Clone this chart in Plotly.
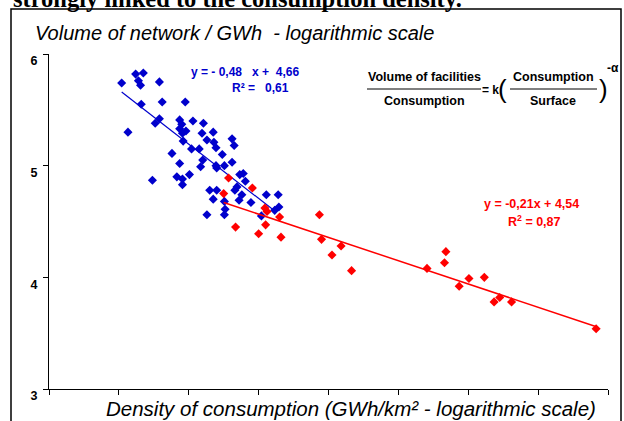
import plotly.graph_objects as go

# ---- data (x: log density of consumption, y: log volume of network / GWh) ----
blue_x = [-1.96, -1.76, -1.65, -1.72, -1.69, -1.42, -1.68, -1.38, -1.05, -1.87,
          -1.48, -1.42, -1.13, -1.10, -0.94, -0.79, -1.13, -1.04, -1.09, -0.81,
          -0.65, -0.74, -1.08, -0.64, -0.61, -0.38, -0.35, -0.96, -0.85, -1.24,
          -0.52, -0.80, -1.13, -0.83, -0.61, -0.60, -0.49, -0.38, -0.99, -1.17,
          -1.09, -1.09, -1.52, -0.27, -0.22, -0.19, -0.70, -0.60, -0.31, -0.34,
          -0.65, -0.49, -0.28, -0.24, 0.11, 0.28, -0.11, -0.48, -0.49, -0.74,
          0.04, 0.23, 0.29]
blue_y = [5.74, 5.82, 5.83, 5.76, 5.72, 5.75, 5.55, 5.57, 5.57, 5.30,
          5.38, 5.42, 5.41, 5.37, 5.40, 5.38, 5.33, 5.31, 5.29, 5.29,
          5.30, 5.23, 5.22, 5.21, 5.16, 5.24, 5.18, 5.15, 5.15, 5.11,
          5.10, 5.05, 5.02, 4.99, 5.00, 4.98, 5.00, 5.03, 4.92, 4.90,
          4.88, 4.83, 4.87, 4.92, 4.93, 4.86, 4.78, 4.78, 4.81, 4.78,
          4.70, 4.68, 4.69, 4.74, 4.74, 4.74, 4.67, 4.61, 4.56, 4.56,
          4.55, 4.60, 4.63]

red_x = [-0.43, -0.09, -0.50, 0.09, 0.12, 0.30, 0.87, 0.10, -0.33, 0.00,
         0.32, 0.90, 1.18, 1.05, 1.33, 2.41, 2.68, 2.66, 3.01, 2.87,
         3.23, 3.45, 3.37, 3.62, 4.83]
red_y = [4.89, 4.80, 4.75, 4.62, 4.59, 4.54, 4.56, 4.47, 4.45, 4.39,
         4.36, 4.34, 4.28, 4.20, 4.06, 4.08, 4.23, 4.13, 3.99, 3.92,
         4.00, 3.82, 3.78, 3.78, 3.54]

# regression lines (end points)
blue_fit_x = [-1.96, 0.25]
blue_fit_y = [5.66, 4.585]
red_fit_x = [-0.50, 4.835]
red_fit_y = [4.67, 3.558]

y_ticks = [3, 4, 5, 6]
x_ticks = [-3, -2, -1, 0, 1, 2, 3, 4, 5]

BLUE = "#0000CC"
RED = "#FF0000"
FONT = "Liberation Sans, Arial, sans-serif"

W, H = 624, 421
ML, MR, MT, MB = 49, 16, 54, 32
PW, PH = W - ML - MR, H - MT - MB


def P(px, py):
    """pixel position -> paper coordinates"""
    return (px - ML) / PW, (H - MB - py) / PH


fig = go.Figure()
fig.add_trace(go.Scatter(x=blue_x, y=blue_y, mode="markers",
                         marker=dict(symbol="diamond", size=7, color=BLUE), showlegend=False))
fig.add_trace(go.Scatter(x=blue_fit_x, y=blue_fit_y, mode="lines",
                         line=dict(color=BLUE, width=1.2), showlegend=False))
fig.add_trace(go.Scatter(x=red_x, y=red_y, mode="markers",
                         marker=dict(symbol="diamond", size=7, color=RED), showlegend=False))
fig.add_trace(go.Scatter(x=red_fit_x, y=red_fit_y, mode="lines",
                         line=dict(color=RED, width=1.5), showlegend=False))

ann = []


def A(text, px, py, size=11, color="black", xanchor="center", yanchor="middle", family=FONT):
    x, y = P(px, py)
    ann.append(dict(text=text, x=x, y=y, xref="paper", yref="paper", showarrow=False,
                    xanchor=xanchor, yanchor=yanchor,
                    font=dict(size=size, color=color, family=family)))


# cut-off heading at the very top
A("<b>strongly linked to the consumption density.</b>", 11, -1, size=24.5,
  xanchor="left", family="Liberation Serif, Times New Roman, serif")
# axis titles
A("<i>Volume of network / GWh  - logarithmic scale</i>", 33, 33, size=20, xanchor="left")
A("<i>Density of consumption (GWh/km² - logarithmic scale)</i>", 598, 408, size=20.5, xanchor="right")
# regression equations
A("<b>y = - 0,48   x +  4,66</b>", 245, 72, size=12, color=BLUE)
A("<b>R² =   0,61</b>", 260, 88, size=12, color=BLUE)
A("<b>y = -0,21x + 4,54</b>", 531, 204, size=12.5, color=RED)
A("<b>R<sup>2</sup> = 0,87</b>", 534, 221, size=12.5, color=RED)
# formula
A("<b>Volume of facilities</b>", 424, 77, size=12.5)
A("<b>Consumption</b>", 424, 101, size=12.5)
A("<b>= k</b>", 490, 90, size=12)
A("(", 502, 89, size=26)
A("<b>Consumption</b>", 553, 77, size=12.5)
A("<b>Surface</b>", 553, 101, size=12.5)
A(")", 603, 89, size=26)
A("<b>-α</b>", 613, 68, size=12)

shapes = []
for x0, x1 in [(367, 481), (510, 597)]:
    a0, b0 = P(x0, 89)
    a1, _ = P(x1, 89)
    shapes.append(dict(type="line", xref="paper", yref="paper", x0=a0, x1=a1, y0=b0, y1=b0,
                       line=dict(color="black", width=1)))
# outer frame of the picture
fx0, fy0 = P(11, 9)
fx1, fy1 = P(621, 430)
shapes.append(dict(type="rect", xref="paper", yref="paper", x0=fx0, x1=fx1, y0=fy1, y1=fy0,
                   line=dict(color="black", width=1.5), layer="below"))

fig.update_layout(
    width=W, height=H,
    margin=dict(l=ML, r=MR, t=MT, b=MB, autoexpand=False),
    paper_bgcolor="white", plot_bgcolor="white",
    annotations=ann, shapes=shapes,
    xaxis=dict(range=[-3, 5], tickvals=x_ticks, showticklabels=False, ticks="outside",
               ticklen=5, tickcolor="black", showline=True, linecolor="black", linewidth=1,
               showgrid=False, zeroline=False, fixedrange=True),
    yaxis=dict(range=[3, 6], tickvals=y_ticks, ticktext=[f"<b>{v}</b>" for v in y_ticks],
               ticks="outside", ticklen=5, tickcolor="black", showline=True,
               linecolor="black", linewidth=1, showgrid=False, zeroline=False,
               tickfont=dict(size=12.5, family=FONT, color="black"), ticklabelshift=7,
               ticklabelstandoff=3, fixedrange=True),
    font=dict(family=FONT),
)
fig.write_html("out.html", config={"displayModeBar": False},
               post_script="document.body.style.margin='0';document.body.style.overflow='hidden';")
